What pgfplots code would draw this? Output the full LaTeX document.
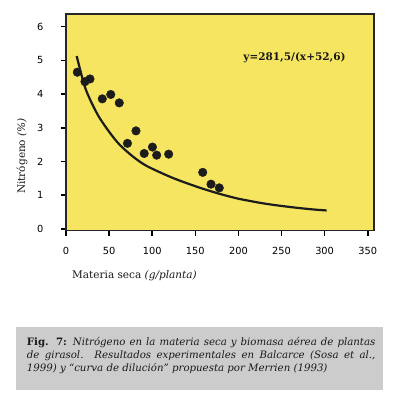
\documentclass[border=0pt]{standalone}
\usepackage{pgfplots}
\pgfplotsset{compat=1.18}
\usepackage{fontspec}
\setmainfont{DejaVu Serif}
\newfontfamily\ticksfont{DejaVu Sans}
\definecolor{plotyellow}{RGB}{245,229,96}
\definecolor{capgray}{RGB}{204,204,204}
\definecolor{dotcol}{RGB}{28,28,28}
\begin{document}
\begin{tikzpicture}
\useasboundingbox (0,0) rectangle (394pt,-402pt);
\fill[white] (0,0) rectangle (394pt,-402pt);
\begin{axis}[
  at={(66pt,-230.7pt)}, anchor=south west,
  scale only axis, width=308pt, height=216.7pt,
  xmin=0, xmax=357.3, ymin=-0.05, ymax=6.376,
  axis background/.style={fill=plotyellow},
  axis line style={black!85, line width=1.2pt},
  xtick={0,50,...,350}, ytick={0,1,...,6},
  xtick pos=left, ytick pos=left,
  tick align=outside, major tick length=5pt,
  tick style={black, line width=1.6pt},
  /pgf/number format/assume math mode=true,
  tick label style={font=\ticksfont\fontsize{9.8}{10}\selectfont, black},
  xticklabel style={yshift=-8pt},
  yticklabel style={xshift=-14pt},
  clip=false,
]
\addplot[smooth, line width=2.2pt, color=dotcol] coordinates {
 (12.4,5.13) (21.2,4.27) (29.0,3.78) (38.6,3.31) (51.0,2.85) (62.6,2.49)
 (78.1,2.14) (93.6,1.87) (120.6,1.55) (140.0,1.36) (159.3,1.19) (178.6,1.04)
 (198.0,0.91) (209.6,0.85) (228.9,0.76) (248.2,0.69) (267.6,0.63) (286.9,0.58)
 (302.4,0.55)
};
\addplot[only marks, mark=*, mark size=4.3pt, color=dotcol] coordinates {
 (13.1,4.65) (22.0,4.37) (27.8,4.45) (42.1,3.86) (51.9,3.99) (61.8,3.74)
 (81.2,2.91) (71.3,2.54) (90.7,2.24) (100.3,2.43) (105.2,2.19) (119.1,2.22)
 (158.6,1.68) (168.2,1.33) (177.8,1.22)
};
\end{axis}
\node[font=\bfseries\fontsize{10.5}{12}\selectfont, black!90] at (294.5pt,-58pt) {y=281,5/(x+52,6)};
\node[font=\fontsize{10.5}{12}\selectfont, black!90, anchor=west, inner sep=0pt] at (72pt,-276pt) {Materia seca \textit{(g/planta)}};
\node[font=\fontsize{10.5}{12}\selectfont, black!90, rotate=90] at (22pt,-156pt) {Nitrógeno \textit{(\%)}};
\fill[capgray] (16pt,-327.3pt) rectangle (382.7pt,-390pt);
\node[anchor=north west, inner sep=0pt, text width=348.5pt, align=justify, font=\fontsize{10.2}{12.8}\selectfont, black!90] at (26.7pt,-337.5pt)
 {\textbf{Fig. 7:} \textit{Nitrógeno en la materia seca y biomasa aérea de plantas\linebreak de girasol. Resultados experimentales en Balcarce (Sosa et al.,\linebreak 1999) y “curva de dilución” propuesta por Merrien (1993)}};
\end{tikzpicture}
\end{document}
